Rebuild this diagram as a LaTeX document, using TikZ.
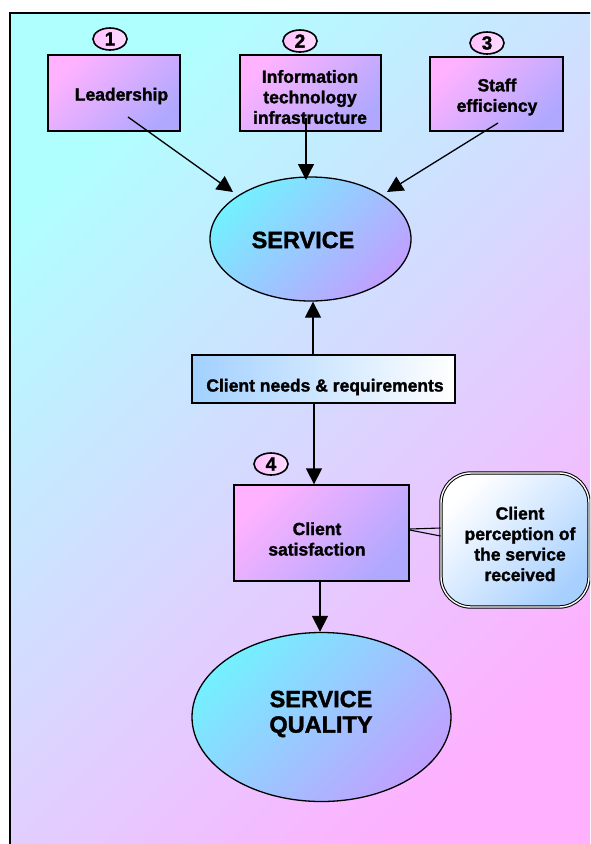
\documentclass[tikz,border=0pt]{standalone}
\usepackage{fontspec}
\setmainfont{Liberation Sans}
\newfontfamily\heavyfont{Liberation Sans Bold}[FakeBold=1.6]
\usetikzlibrary{arrows.meta,shapes.geometric}

\definecolor{bgcyan}{HTML}{B0FFFF}
\definecolor{bgpink}{HTML}{FFB0FF}
\definecolor{boxpink}{HTML}{FFB2FF}
\definecolor{boxblue}{HTML}{B0A8FF}
\definecolor{ovcyan}{HTML}{74F0FF}
\definecolor{ovviolet}{HTML}{C0A0FF}
\definecolor{needblue}{HTML}{A2D0FF}
\definecolor{percblue}{HTML}{A8D0FF}
\definecolor{badgepink}{HTML}{FFC0FF}

\tikzset{
  diag/.style 2 args={top color=#1, bottom color=#2, shading angle=45},
  txt/.style={font=\heavyfont\fontsize{17.5}{20.5}\selectfont, align=center, inner sep=0pt},
  bigtxt/.style={font=\heavyfont\fontsize{23.5}{25.5}\selectfont, align=center, inner sep=0pt},
  factor/.style={draw, line width=1.3pt, diag={boxpink}{boxblue}, inner sep=0pt},
  oval/.style={ellipse, draw, line width=1.3pt, diag={ovcyan}{ovviolet}, inner sep=0pt},
  needbox/.style={draw, line width=1.3pt, left color=needblue, right color=white, inner sep=0pt},
  percbox/.style={draw, line width=1pt, double=white, double distance=1.4pt, rounded corners=30pt,
    diag={white}{percblue}, inner sep=0pt},
  badge/.style={ellipse, draw, line width=1.6pt, left color=badgepink, right color=white!45!badgepink,
    minimum width=34pt, minimum height=22pt, inner sep=0pt, font=\heavyfont\fontsize{19}{19}\selectfont},
  conn/.style={line width=1.3pt, -{Triangle[length=16pt,width=16pt]}},
}

\begin{document}
\begin{tikzpicture}[x=1pt,y=-1pt]
  \useasboundingbox (0,0) rectangle (590,844);
  \clip (0,0) rectangle (590,844);

  % background panel
  \shade[diag={bgcyan}{bgpink}] (10,13) rectangle (600,854);
  \draw[line width=1.8pt] (10,854) -- (10,13) -- (600,13);

  % the three contributing factors
  \node[factor, minimum width=132pt, minimum height=76pt] (lead) at (114,93) {};
  \node[txt] (leadT) at (121.5,96) {Leadership};
  \node[badge] (b1) at (110,39) {1};

  \node[factor, minimum width=141pt, minimum height=76pt] (itech) at (310.5,93) {};
  \node[txt] (itechT) at (310,97) {Information\\technology\\infrastructure};
  \node[badge] (b2) at (300,41) {2};

  \node[factor, minimum width=133pt, minimum height=74pt] (staff) at (496.5,94) {};
  \node[txt] (staffT) at (497,97) {Staff\\efficiency};
  \node[badge] (b3) at (487,43) {3};

  % service
  \node[oval, minimum width=201pt, minimum height=124pt] (svc) at (310.5,239) {};
  \node[bigtxt] (svcT) at (303,240) {SERVICE};

  % client needs
  \node[needbox, minimum width=263pt, minimum height=48pt] (needs) at (323.5,379) {};
  \node[txt] (needsT) at (325,387) {Client needs \& requirements};

  % client satisfaction
  \node[badge] (b4) at (271,464) {4};
  \node[factor, minimum width=175pt, minimum height=96pt] (sat) at (321.5,533) {};
  \node[txt] (satT) at (317,539) {Client\\satisfaction};

  % perception callout
  \node[percbox, minimum width=148pt, minimum height=134pt] (perc) at (515,540) {};
  \node[txt] (percT) at (520,544) {Client\\perception of\\the service\\received};
  \draw[line width=1.1pt] ([yshift=4pt]sat.east) -- ([yshift=12pt]perc.west);
  \draw[line width=1.1pt] ([yshift=3pt]sat.east) -- ([yshift=4pt]perc.west);

  % service quality
  \node[oval, minimum width=259pt, minimum height=169pt] (qual) at (321.5,717) {};
  \node[bigtxt] (qualT) at (321,714) {SERVICE\\QUALITY};

  % connectors
  \coordinate (leadOut) at (128,117);
  \coordinate (staffOut) at (498,123);
  \coordinate (itechOut) at (306,118);
  \coordinate (svcIn1) at (233,192);
  \coordinate (svcIn2) at (306,180);
  \coordinate (svcIn3) at (387,192);
  \draw[conn] (leadOut) -- (svcIn1);
  \draw[conn] (itechOut) -- (svcIn2);
  \draw[conn] (staffOut) -- (svcIn3);
  \draw[conn] (needs.north -| 313,0) -- (svc.south -| 313,0);
  \draw[conn] (needs.south -| 314,0) -- (sat.north -| 314,0);
  \draw[conn] (sat.south -| 320,0) -- (qual.north -| 320,0);
\end{tikzpicture}
\end{document}
